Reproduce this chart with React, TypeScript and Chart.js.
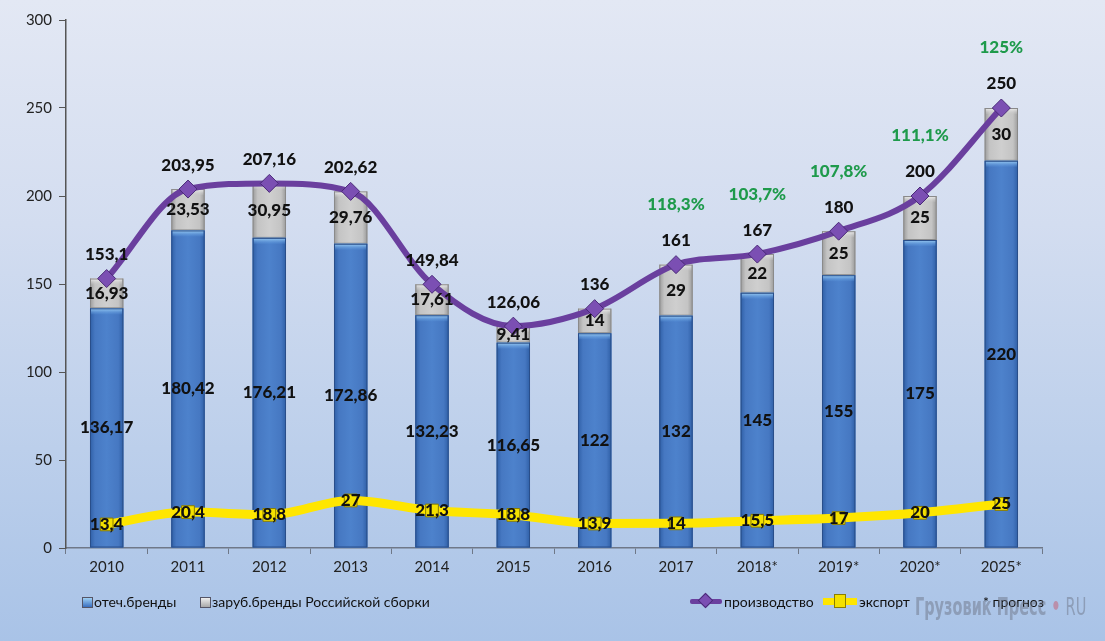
import React, { useEffect, useRef } from "react";
import { Chart, registerables } from "chart.js";

Chart.register(...registerables);

const categories = ["2010", "2011", "2012", "2013", "2014", "2015", "2016", "2017", "2018*", "2019*", "2020*", "2025*"];
const domestic = [136.17, 180.42, 176.21, 172.86, 132.23, 116.65, 122, 132, 145, 155, 175, 220];
const foreign = [16.93, 23.53, 30.95, 29.76, 17.61, 9.41, 14, 29, 22, 25, 25, 30];
const production = [153.1, 203.95, 207.16, 202.62, 149.84, 126.06, 136, 161, 167, 180, 200, 250];
const exportVals = [13.4, 20.4, 18.8, 27, 21.3, 18.8, 13.9, 14, 15.5, 17, 20, 25];
const growthLabels = ["", "", "", "", "", "", "", "118,3%", "103,7%", "107,8%", "111,1%", "125%"];
const yTicks = [0, 50, 100, 150, 200, 250, 300];

const legendLeft = ["отеч.бренды", "заруб.бренды Российской сборки"];
const legendRight = ["производство", "экспорт", "* прогноз"];

const FONT = "Lato, 'Open Sans', sans-serif";
const fmt = (v: number) => String(v).replace(".", ",");

const barStyle: any = {
  afterDatasetDraw(chart: any, args: any) {
    const ds = chart.data.datasets[args.index];
    if (ds.type !== "bar") return;
    const ctx = chart.ctx;
    const isBlue = ds.label === legendLeft[0];
    args.meta.data.forEach((el: any) => {
      const { x, y, base, width } = el.getProps(["x", "y", "base", "width"], true);
      const l = x - width / 2;
      const top = Math.min(y, base);
      const h = Math.abs(base - y);
      const g = ctx.createLinearGradient(l, 0, l + width, 0);
      if (isBlue) {
        g.addColorStop(0, "#2f5fa6");
        g.addColorStop(0.15, "#4678c2");
        g.addColorStop(0.5, "#4d82cc");
        g.addColorStop(0.85, "#4678c2");
        g.addColorStop(1, "#2f5fa6");
      } else {
        g.addColorStop(0, "#9a9a9a");
        g.addColorStop(0.15, "#c4c4c4");
        g.addColorStop(0.5, "#cfcfcf");
        g.addColorStop(0.85, "#c4c4c4");
        g.addColorStop(1, "#9a9a9a");
      }
      ctx.save();
      ctx.fillStyle = g;
      ctx.fillRect(l, top, width, h);
      const bev = ctx.createLinearGradient(0, top, 0, top + 6);
      if (isBlue) {
        bev.addColorStop(0, "#9fd0f5");
        bev.addColorStop(1, "rgba(90,150,220,0.2)");
      } else {
        bev.addColorStop(0, "#f2f2f2");
        bev.addColorStop(1, "rgba(200,200,200,0.2)");
      }
      ctx.fillStyle = bev;
      ctx.fillRect(l + 1, top, width - 2, Math.min(6, h));
      ctx.strokeStyle = isBlue ? "#2a4f8a" : "#8a8a8a";
      ctx.lineWidth = 1;
      ctx.strokeRect(l + 0.5, top + 0.5, width - 1, h - 1);
      ctx.restore();
    });
  },
};

const labelsPlugin: any = {
  afterDatasetsDraw(chart: any) {
    const ctx = chart.ctx;
    ctx.save();
    ctx.textAlign = "center";
    ctx.textBaseline = "middle";
    ctx.font = `900 17px ${FONT}`;
    chart.data.datasets.forEach((ds: any, di: number) => {
      const meta = chart.getDatasetMeta(di);
      meta.data.forEach((el: any, i: number) => {
        const v = ds.data[i];
        if (ds.type === "bar") {
          const { x, y, base } = el.getProps(["x", "y", "base"], true);
          ctx.fillStyle = "#111";
          ctx.fillText(fmt(v), x, (y + base) / 2);
        } else if (ds.label === legendRight[0]) {
          ctx.fillStyle = "#111";
          ctx.fillText(fmt(v), el.x, el.y - 24);
          if (growthLabels[i]) {
            ctx.fillStyle = "#1e9a4b";
            ctx.fillText(growthLabels[i], el.x, el.y - 60);
          }
        } else {
          ctx.fillStyle = "#111";
          ctx.fillText(fmt(v), el.x, el.y);
        }
      });
    });
    ctx.restore();
  },
};

export default function App() {
  const ref = useRef<HTMLCanvasElement>(null);
  useEffect(() => {
    document.body.style.margin = "0";
    const chart = new Chart(ref.current!, {
      type: "bar",
      data: {
        labels: categories,
        datasets: [
          {
            type: "line",
            label: legendRight[1],
            data: exportVals,
            stack: "e",
            borderColor: "#ffe600",
            borderWidth: 9,
            cubicInterpolationMode: "monotone",
            pointStyle: "rect",
            pointRadius: 9,
            pointBackgroundColor: "#f3e000",
            pointBorderColor: "#8a7d00",
            pointBorderWidth: 1,
            order: 0,
          } as any,
          {
            type: "line",
            label: legendRight[0],
            data: production,
            stack: "p",
            borderColor: "#6a3f9e",
            borderWidth: 6,
            cubicInterpolationMode: "monotone",
            pointStyle: "rectRot",
            pointRadius: 9,
            pointBackgroundColor: "#7b4fb3",
            pointBorderColor: "#4a2a78",
            pointBorderWidth: 1,
            order: 1,
          } as any,
          {
            type: "bar",
            label: legendLeft[0],
            data: domestic,
            stack: "b",
            backgroundColor: "#4a7dc6",
            barPercentage: 0.41,
            categoryPercentage: 1,
            order: 2,
          } as any,
          {
            type: "bar",
            label: legendLeft[1],
            data: foreign,
            stack: "b",
            backgroundColor: "#c8c8c8",
            barPercentage: 0.41,
            categoryPercentage: 1,
            order: 2,
          } as any,
        ],
      },
      options: {
        responsive: false,
        animation: false,
        devicePixelRatio: 1,
        layout: { padding: { left: 0, right: 63, top: 20, bottom: 59 } },
        plugins: { legend: { display: false }, tooltip: { enabled: false } },
        scales: {
          x: {
            stacked: true,
            grid: { offset: true, drawOnChartArea: false, drawTicks: true, tickLength: 6, color: "#6f7888" },
            border: { color: "#6f7888", width: 1.5 },
            ticks: { color: "#222", font: { family: FONT, size: 15 }, padding: 4 },
            afterFit: (s: any) => { s.height = 34; },
          },
          y: {
            stacked: true,
            min: 0,
            max: 300,
            afterBuildTicks: (s: any) => { s.ticks = yTicks.map((v) => ({ value: v })); },
            grid: { drawOnChartArea: false, drawTicks: true, tickLength: 7, color: "#555" },
            border: { color: "#555", width: 1.5 },
            ticks: { color: "#222", font: { family: FONT, size: 15 }, padding: 7 },
            afterFit: (s: any) => { s.width = 66; },
          },
        },
      },
      plugins: [barStyle, labelsPlugin],
    });
    return () => chart.destroy();
  }, []);

  const txt: React.CSSProperties = { position: "absolute", top: 593, fontFamily: FONT, fontSize: 14, color: "#111", whiteSpace: "nowrap", lineHeight: "18px" };
  const sq = (bg: string, x: number): React.CSSProperties => ({ position: "absolute", left: x, top: 597, width: 9, height: 9, background: bg, border: "1px solid #556" });

  return (
    <div style={{ position: "fixed", left: 0, top: 0, width: 1105, height: 641, background: "linear-gradient(to bottom, #e3e8f4 0%, #d3ddf0 35%, #bccfeb 70%, #a9c3e7 100%)", overflow: "hidden" }}>
      <canvas ref={ref} width={1105} height={641} style={{ position: "absolute", left: 0, top: 0 }} />
      <div style={sq("linear-gradient(#9fd0f5,#3a6fbf)", 82)} />
      <div style={{ ...txt, left: 94 }}>{legendLeft[0]}</div>
      <div style={sq("linear-gradient(#eee,#a8a8a8)", 200)} />
      <div style={{ ...txt, left: 212 }}>{legendLeft[1]}</div>
      <div style={{ position: "absolute", left: 690, top: 599, width: 32, height: 5, background: "#6a3f9e", borderRadius: 2 }} />
      <div style={{ position: "absolute", left: 700, top: 595, width: 9, height: 9, background: "#7b4fb3", transform: "rotate(45deg)", border: "1px solid #4a2a78" }} />
      <div style={{ ...txt, left: 724 }}>{legendRight[0]}</div>
      <div style={{ position: "absolute", left: 823, top: 598, width: 34, height: 7, background: "#ffe600" }} />
      <div style={{ position: "absolute", left: 834, top: 594, width: 12, height: 14, background: "#f3e000", border: "1px solid #8a7d00", boxSizing: "border-box" }} />
      <div style={{ ...txt, left: 859 }}>{legendRight[1]}</div>
      <div style={{ ...txt, left: 983 }}>{legendRight[2]}</div>
      <div style={{ position: "absolute", left: 915, top: 592, transform: "scaleX(0.58)", transformOrigin: "left top", fontFamily: "'DejaVu Sans', sans-serif", fontWeight: "bold", fontSize: 25, color: "rgba(110,118,135,0.5)", whiteSpace: "nowrap" }}>
        Грузовик Пресс <span style={{ color: "rgba(200,90,110,0.5)" }}>•</span> <span style={{ fontWeight: "normal" }}>RU</span>
      </div>
    </div>
  );
}
